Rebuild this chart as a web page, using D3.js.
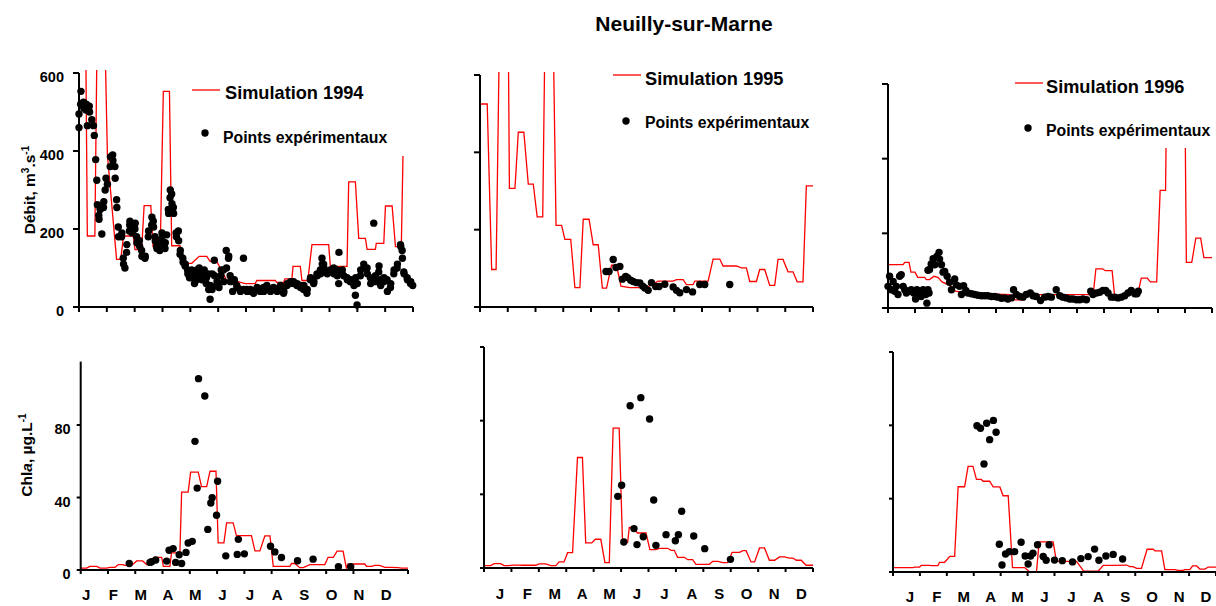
<!DOCTYPE html>
<html><head><meta charset="utf-8">
<script src="https://cdn.jsdelivr.net/npm/d3@7"></script>
<style>
body{margin:0;background:#fff}
svg{display:block}
text{font-family:"Liberation Sans",Arial,Helvetica,sans-serif;font-weight:bold;fill:#000}
</style>
</head><body>
<svg id="c" width="1216" height="606"></svg>
<script>
// ---------- DATA (x = month of year, 0..12) ----------
const months = ["J","F","M","A","M","J","J","A","S","O","N","D"];
const title = "Neuilly-sur-Marne";
const qTicks = [0,200,400,600];
const chlTicks = [0,40,80,120];
const simLabels = ["Simulation 1994","Simulation 1995","Simulation 1996"];
const ptsLabel = "Points expérimentaux";

const simQ94 = [[0,700],[0.24,700],[0.30,182],[0.57,182],[0.65,700],[0.93,700],[1.02,390],[1.35,122],[1.50,122],[1.60,182],[1.95,182],[2.01,147],[2.25,147],[2.34,260],[2.58,260],[2.66,155],[2.92,155],[3.03,553],[3.25,553],[3.33,157],[3.63,157],[3.70,112],[4.05,112],[4.32,130],[4.59,130],[4.71,117],[4.95,117],[5.31,68],[5.55,68],[5.97,60],[6.33,60],[6.39,68],[7.05,68],[7.10,63],[7.35,63],[7.40,72],[7.65,72],[7.69,104],[7.95,104],[8.01,68],[8.22,68],[8.37,160],[8.97,160],[9.03,104],[9.63,104],[9.69,321],[9.93,321],[10.05,176],[10.29,176],[10.35,148],[10.65,148],[10.68,163],[10.95,163],[11.01,259],[11.25,259],[11.37,155],[11.58,155],[11.64,387]];

const ptsQ94 = [[0.00,460],[0.00,495],[0.06,520],[0.07,553],[0.16,525],[0.17,510],[0.25,505],[0.26,520],[0.30,465],[0.37,515],[0.38,500],[0.46,480],[0.52,465],[0.55,440],[0.60,378],[0.64,325],[0.66,262],[0.71,235],[0.72,225],[0.76,250],[0.82,187],[0.88,255],[0.89,270],[0.94,300],[0.97,330],
[1.02,315],[1.12,360],[1.13,385],[1.21,390],[1.22,375],[1.29,360],[1.30,330],[1.35,275],[1.36,255],[1.41,205],[1.42,180],[1.53,180],[1.54,190],[1.59,125],[1.60,110],[1.65,100],[1.71,140],[1.72,160],[1.81,195],[1.82,210],[1.83,220],[1.89,215],[1.90,205],[1.91,190],[1.98,210],
[2.01,200],[2.02,215],[2.07,180],[2.08,165],[2.17,170],[2.18,155],[2.25,145],[2.26,130],[2.37,125],[2.38,130],[2.49,180],[2.50,195],[2.61,210],[2.62,230],[2.67,220],[2.68,205],[2.73,180],[2.74,170],[2.79,155],[2.80,150],[2.89,165],[2.90,145],[2.97,175],[2.98,190],
[3.03,185],[3.04,160],[3.09,150],[3.10,165],[3.15,185],[3.21,250],[3.22,240],[3.27,280],[3.28,300],[3.33,290],[3.34,265],[3.39,255],[3.40,240],[3.49,190],[3.50,180],[3.57,195],[3.58,170],[3.63,135],[3.64,145],[3.73,125],[3.74,115],[3.81,105],[3.82,110],[3.90,95],[3.91,85],[3.97,75],[3.98,90],
[4.05,95],[4.06,75],[4.15,60],[4.16,85],[4.23,70],[4.24,95],[4.32,100],[4.33,80],[4.41,90],[4.42,70],[4.50,95],[4.51,80],[4.57,60],[4.58,75],[4.65,85],[4.66,45],[4.71,20],[4.72,55],[4.78,45],[4.79,85],[4.86,120],[4.87,80],[4.95,55],[4.96,65],
[5.02,60],[5.03,50],[5.10,80],[5.11,95],[5.19,95],[5.20,65],[5.29,145],[5.30,100],[5.37,125],[5.38,130],[5.43,80],[5.44,65],[5.52,40],[5.58,70],[5.59,65],[5.67,55],[5.68,50],[5.79,45],[5.80,40],[5.91,125],[5.92,45],
[6.03,45],[6.04,40],[6.15,40],[6.16,45],[6.27,35],[6.28,40],[6.39,45],[6.40,50],[6.51,40],[6.52,45],[6.63,50],[6.64,40],[6.75,55],[6.76,50],[6.87,45],[6.88,40],[6.99,50],[7.00,45],
[7.11,45],[7.12,40],[7.23,50],[7.24,55],[7.35,35],[7.36,40],[7.47,55],[7.48,60],[7.59,60],[7.60,65],[7.71,65],[7.72,60],[7.83,55],[7.84,60],[7.95,55],[7.96,50],
[8.07,45],[8.08,55],[8.19,35],[8.20,45],[8.31,70],[8.32,75],[8.43,60],[8.44,65],[8.55,85],[8.56,80],[8.67,95],[8.68,85],[8.73,125],[8.74,110],[8.79,110],[8.80,100],[8.91,90],[8.92,85],
[9.03,95],[9.04,90],[9.15,100],[9.16,85],[9.27,95],[9.28,80],[9.33,60],[9.34,140],[9.45,85],[9.46,95],[9.51,80],[9.63,75],[9.64,70],[9.75,65],[9.76,70],[9.87,60],[9.88,55],[9.93,30],[9.94,75],[9.99,5],[10.00,60],
[10.11,80],[10.12,95],[10.23,110],[10.24,100],[10.35,100],[10.36,85],[10.47,75],[10.48,60],[10.59,215],[10.65,80],[10.66,65],[10.77,90],[10.78,105],[10.83,70],[10.84,55],[10.95,65],[10.96,75],
[11.07,70],[11.08,40],[11.19,50],[11.20,60],[11.31,85],[11.32,95],[11.43,100],[11.44,110],[11.55,160],[11.56,155],[11.61,145],[11.62,125],[11.67,90],[11.68,85],[11.79,75],[11.80,70],[11.91,60],[11.92,65],[11.99,55]];

const simQ95 = [[0,525],[0.26,525],[0.42,97],[0.58,97],[0.70,700],[1.02,700],[1.06,307],[1.26,307],[1.38,452],[1.58,452],[1.74,318],[1.92,318],[2.06,233],[2.26,233],[2.34,700],[2.64,700],[2.74,211],[2.94,211],[3.06,175],[3.27,175],[3.42,50],[3.60,50],[3.72,227],[3.93,227],[4.08,161],[4.26,161],[4.41,49],[4.56,49],[4.74,108],[4.92,108],[5.08,54],[5.40,50],[6.00,50],[6.42,67],[6.96,67],[7.08,71],[7.32,71],[7.44,58],[7.68,58],[7.74,67],[8.22,67],[8.40,124],[8.64,124],[8.76,106],[9.24,106],[9.42,101],[9.60,101],[9.72,66],[9.96,66],[10.08,97],[10.26,97],[10.44,56],[10.62,56],[10.74,123],[10.92,123],[11.10,91],[11.28,91],[11.43,65],[11.64,65],[11.76,313],[12,313]];

const ptsQ95 = [[4.54,92],[4.65,92],[4.80,123],[4.90,102],[5.04,105],[5.13,72],[5.25,79],[5.32,76],[5.43,69],[5.52,66],[5.64,63],[5.76,62],[5.86,54],[5.94,49],[6.06,43],[6.18,63],[6.33,53],[6.45,53],[6.66,59],[6.96,52],[7.08,43],[7.20,37],[7.44,45],[7.66,39],[7.92,58],[8.10,58],[9.00,58]];

const simQ96 = [[0,116],[0.56,116],[0.62,122],[0.78,122],[0.85,96],[1.0,96],[1.1,82],[1.36,82],[1.42,76],[1.54,76],[1.70,85],[1.85,82],[2.0,70],[2.3,60],[2.5,45],[3.0,40],[4.5,36],[4.7,22],[5.0,22],[5.2,36],[7.6,36],[7.7,105],[7.95,105],[8.05,100],[8.3,100],[8.4,27],[8.7,27],[8.8,36],[9.25,36],[9.38,80],[9.6,80],[9.72,70],[9.95,70],[10.08,315],[10.28,315],[10.34,700],[10.98,700],[11.05,122],[11.25,122],[11.4,187],[11.58,187],[11.7,135],[12,135]];

const ptsQ96 = [[0.00,58],[0.06,85],[0.12,49],[0.19,71],[0.25,45],[0.31,58],[0.37,36],[0.43,85],[0.49,89],[0.56,58],[0.62,49],[0.68,40],[0.78,45],[0.86,49],[0.95,40],[1.02,24],[1.07,49],[1.15,40],[1.23,31],[1.30,49],[1.40,36],[1.44,13],[1.48,49],[1.52,40],[1.48,101],[1.54,103],[1.60,118],[1.67,132],[1.73,116],[1.81,138],[1.89,149],[1.91,131],[1.98,116],[2.04,96],[2.10,98],[2.19,85],[2.28,69],[2.35,49],[2.47,78],[2.53,62],[2.65,58],[2.72,36],[2.80,60],[2.88,47],[2.96,40],[3.09,38],[3.21,36],[3.33,34],[3.46,33],[3.58,33],[3.70,33],[3.83,31],[3.95,31],[4.07,29],[4.20,26],[4.32,27],[4.44,24],[4.57,27],[4.65,49],[4.75,36],[4.88,31],[5.00,29],[5.12,36],[5.27,40],[5.37,33],[5.49,31],[5.65,20],[5.80,29],[5.93,31],[6.05,29],[6.23,49],[6.36,33],[6.48,29],[6.60,27],[6.73,24],[6.85,24],[6.98,22],[7.10,22],[7.22,24],[7.35,22],[7.51,45],[7.59,36],[7.72,40],[7.84,42],[7.96,47],[8.06,47],[8.15,40],[8.27,29],[8.40,29],[8.52,27],[8.64,29],[8.77,33],[8.89,40],[9.01,47],[9.14,38],[9.22,38],[9.27,45]];

const simChl94 = [[0,1],[0.22,1],[0.34,2],[0.59,2],[0.71,1],[0.95,1],[1.07,1.5],[1.26,1.5],[1.38,3],[1.56,3],[1.62,2.5],[1.87,2.5],[2.05,5],[2.27,5],[2.42,3],[2.60,5],[2.72,7],[2.97,7],[3.03,2],[3.27,2],[3.33,9.5],[3.52,9.5],[3.64,10.5],[3.70,43],[3.94,43],[4.03,54],[4.31,54],[4.43,46],[4.62,46],[4.74,54.5],[4.96,54.5],[5.04,15],[5.25,15],[5.35,26],[5.59,26],[5.71,19],[6.26,19],[6.39,10.5],[6.57,10.5],[6.75,18.8],[6.94,18.8],[7.06,2],[7.67,2],[7.73,3.6],[7.85,3.6],[8.03,1.3],[8.16,1.3],[8.40,3],[8.95,3],[9.07,7],[9.26,7],[9.40,10.4],[9.62,10.4],[9.74,1],[9.80,3.3],[10.42,3.3],[10.48,2],[10.66,2],[10.78,2.5],[10.96,2.5],[11.15,1.5],[11.39,1.5],[11.64,1.3],[11.76,1],[12,1]];

const ptsChl94 = [[1.78,3.6],[2.54,4.2],[2.60,4.6],[2.75,5.5],[3.15,4.9],[3.24,10.9],[3.39,11.8],[3.48,4.2],[3.61,8.4],[3.70,3.6],[3.86,9.7],[3.94,14.9],[4.09,15.8],[4.19,71],[4.27,45.2],[4.32,105.6],[4.55,96],[4.66,22.4],[4.77,37],[4.82,39.9],[4.98,30.2],[5.02,49],[5.32,7.8],[5.74,8.6],[5.78,16.9],[6.00,8.9],[6.96,13.1],[7.12,10],[7.36,6.9],[7.95,5.1],[8.52,6],[9.45,1.8],[9.90,1.8]];

const simChl95 = [[0,1.3],[0.24,1.3],[0.37,2.4],[0.61,2.4],[0.73,1.3],[0.91,1.3],[1.04,1.6],[1.28,1.6],[1.40,1.5],[1.89,1.5],[2.01,2.2],[2.25,2.2],[2.44,1.3],[2.62,1.3],[2.74,3.3],[2.92,3.3],[3.05,8.3],[3.23,8.3],[3.41,60],[3.59,60],[3.71,13.6],[3.93,13.6],[4.06,15.6],[4.26,15.6],[4.41,2.9],[4.57,2.9],[4.71,76],[4.93,76],[5.05,15],[5.24,14],[5.30,22],[5.42,22],[5.60,19],[5.91,19],[6.05,10],[6.27,10],[6.39,10.7],[6.70,10.7],[6.82,9.6],[6.94,9.6],[7.06,5.8],[7.31,5.8],[7.43,4.5],[7.61,4.5],[7.73,2],[8.22,2],[8.34,3.6],[8.53,3.6],[8.71,2.9],[8.89,2.9],[9.05,8.5],[9.32,8.5],[9.44,9.4],[9.56,9.4],[9.74,3.3],[9.87,3.3],[10.05,10.9],[10.23,10.9],[10.41,4.2],[10.60,4.2],[10.78,6],[10.96,6],[11.14,5.4],[11.27,5.4],[11.39,4.2],[11.57,4.2],[11.75,1.5],[12,1.5]];

const ptsChl95 = [[4.88,38.9],[5.02,44.9],[5.10,14.1],[5.33,88.1],[5.47,21.4],[5.58,12.7],[5.72,92.5],[5.81,17],[6.04,80.9],[6.19,36.9],[6.27,12.3],[6.64,18.1],[6.98,14.8],[7.09,18.1],[7.21,30.8],[7.65,17.4],[8.05,10.5],[8.99,4.7]];

const simChl96 = [[0,2.4],[0.74,2.4],[0.81,2.7],[0.99,2.7],[1.05,3.6],[1.36,3.6],[1.43,3.5],[1.67,3.5],[1.73,5.3],[1.92,5.3],[2.11,8.5],[2.29,8.5],[2.42,46.5],[2.66,46.5],[2.79,57.6],[2.97,57.6],[3.10,50.5],[3.28,50.5],[3.35,49.5],[3.59,49.5],[3.72,46.4],[3.97,46.4],[4.09,41.6],[4.28,41.6],[4.44,2.4],[4.89,2.4],[5.08,0],[5.33,0],[5.43,16.4],[5.95,16.4],[6.07,5.8],[6.82,5.8],[7.09,0.4],[7.62,0.4],[7.81,3.6],[8.18,3.6],[8.67,3.8],[8.80,2.9],[8.92,2.9],[9.05,2],[9.23,2],[9.44,12.4],[9.67,12.4],[9.73,11.5],[9.98,11.5],[10.10,1.3],[10.47,1.3],[10.59,0.9],[10.78,0.9],[10.84,1.3],[11.03,1.3],[11.13,3.3],[11.28,3.3],[11.40,1.6],[11.59,1.6],[11.71,2.7],[12,2.7]];

const ptsChl96 = [[3.12,79.8],[3.25,78.4],[3.38,58.9],[3.48,81.1],[3.59,72.2],[3.73,82.7],[3.83,76.2],[3.95,15.1],[4.05,3.8],[4.18,9.8],[4.32,11.1],[4.52,11.1],[4.76,16.2],[4.91,8.7],[5.02,4.4],[5.11,8.7],[5.20,10.2],[5.37,14.9],[5.58,8.5],[5.69,6.4],[5.80,14.9],[6.00,6.5],[6.29,6.2],[6.67,5.5],[6.98,7.3],[7.25,8.4],[7.49,12.5],[7.65,6.4],[7.91,8.7],[8.18,9.6],[8.53,7.1]];

// ---------- LAYOUT ----------
const svg = d3.select("#c");
const RED = "#ff0000";

const panels = [
  {sim:simQ94, pts:ptsQ94, x0:79, x1:413, y0:307, yT:73, max:600, ticks:qTicks, yLab:true, top:true,
   leg:{lx:192, ly:90, tx:225, ty:99, dx:205, dy:133, ptx:223, pty:143, label:simLabels[0]}},
  {sim:simQ95, pts:ptsQ95, x0:480, x1:813, y0:307, yT:75, max:600, ticks:qTicks, yLab:false, top:true,
   leg:{lx:613, ly:75, tx:645, ty:85, dx:626, dy:121, ptx:645, pty:128, label:simLabels[1]}},
  {sim:simQ96, pts:ptsQ96, x0:888, x1:1212, y0:308, yT:84, max:600, ticks:qTicks, yLab:false, top:true,
   leg:{lx:1015, ly:83, tx:1046, ty:93, dx:1028, dy:128, ptx:1046, pty:136, label:simLabels[2], box:[1005,60,211,88]}},
  {sim:simChl94, pts:ptsChl94, x0:80.7, x1:408, y0:570, yT:361.6, max:115, ticks:chlTicks.filter(t=>t<=115), yLab:true, top:false, mOff:0.2, mBase:600},
  {sim:simChl95, pts:ptsChl95, x0:484, x1:813, y0:568, yT:347, max:120, ticks:chlTicks, yLab:false, top:false, mOff:0.58, mBase:599},
  {sim:simChl96, pts:ptsChl96, x0:893, x1:1216, y0:572, yT:352, max:120, ticks:chlTicks, yLab:false, top:false, mOff:0.63, mBase:602}
];

panels.forEach((p,i)=>{
  const x = d3.scaleLinear().domain([0,12]).range([p.x0,p.x1]);
  const y = d3.scaleLinear().domain([0,p.max]).range([p.y0,p.yT]);
  const g = svg.append("g");
  const cid = "clip"+i;
  svg.append("clipPath").attr("id",cid).append("rect")
    .attr("x",p.x0).attr("y",p.yT-3).attr("width",p.x1-p.x0+2).attr("height",p.y0-p.yT+4);

  const line = d3.line().x(d=>x(d[0])).y(d=>y(d[1]));
  g.append("path").datum(p.sim).attr("d",line).attr("fill","none")
    .attr("stroke",RED).attr("stroke-width",1.3).attr("clip-path",`url(#${cid})`);

  g.selectAll("circle.pt").data(p.pts).enter().append("circle").attr("class","pt")
    .attr("cx",d=>x(d[0])).attr("cy",d=>y(d[1])).attr("r",3.7).attr("fill","#000");

  if(p.leg){
    const L = p.leg;
    if(L.box) g.append("rect").attr("x",L.box[0]).attr("y",L.box[1]).attr("width",L.box[2]).attr("height",L.box[3]).attr("fill","#fff");
    g.append("line").attr("x1",L.lx).attr("x2",L.lx+28).attr("y1",L.ly).attr("y2",L.ly).attr("stroke",RED).attr("stroke-width",1.3);
    g.append("text").attr("x",L.tx).attr("y",L.ty).attr("font-size",18.2).text(L.label);
    g.append("circle").attr("cx",L.dx).attr("cy",L.dy).attr("r",3.7).attr("fill","#000");
    g.append("text").attr("x",L.ptx).attr("y",L.pty).attr("font-size",15.8).text(ptsLabel);
  }

  const ax = svg.append("g").attr("stroke","#000").attr("stroke-width",2).attr("fill","none");
  ax.append("line").attr("x1",p.x0).attr("x2",p.x0).attr("y1",p.y0+1).attr("y2",p.yT);
  ax.append("line").attr("x1",p.x0-1).attr("x2",p.x1).attr("y1",p.y0).attr("y2",p.y0);
  const tl = p.top?6:4;
  p.ticks.forEach(t=>{
    ax.append("line").attr("x1",p.x0-tl).attr("x2",p.x0).attr("y1",y(t)).attr("y2",y(t));
  });
  d3.range(13).forEach(k=>{
    ax.append("line").attr("x1",x(k)).attr("x2",x(k)).attr("y1",p.y0).attr("y2",p.y0+(p.top?5:4));
  });
  if(p.yLab){
    svg.append("g").selectAll("text").data(p.ticks).enter().append("text")
      .attr("x",p.x0-(p.top?15:10)).attr("y",t=>y(t)+9).attr("text-anchor","end")
      .attr("font-size",14.5).text(t=>t);
  }
  if(!p.top){
    svg.append("g").selectAll("text").data(months).enter().append("text")
      .attr("x",(m,k)=>x(k+p.mOff)).attr("y",p.mBase).attr("text-anchor","middle")
      .attr("font-size",15).text(m=>m);
  }
});

svg.append("text").attr("x",684).attr("y",31).attr("text-anchor","middle").attr("font-size",21).text(title);

const t1 = svg.append("text").attr("transform","translate(35,190) rotate(-90)").attr("text-anchor","middle").attr("font-size",15.5);
t1.append("tspan").text("Débit, m");
t1.append("tspan").attr("font-size",10).attr("dy",-6).text("3");
t1.append("tspan").attr("dy",6).text(".s");
t1.append("tspan").attr("font-size",10).attr("dy",-6).text("-1");

const t2 = svg.append("text").attr("transform","translate(32,455) rotate(-90)").attr("text-anchor","middle").attr("font-size",15.5);
t2.append("tspan").text("Chl");
t2.append("tspan").attr("font-style","italic").text("a");
t2.append("tspan").text(", µg.L");
t2.append("tspan").attr("font-size",10).attr("dy",-6).text("-1");
</script>
</body></html>
